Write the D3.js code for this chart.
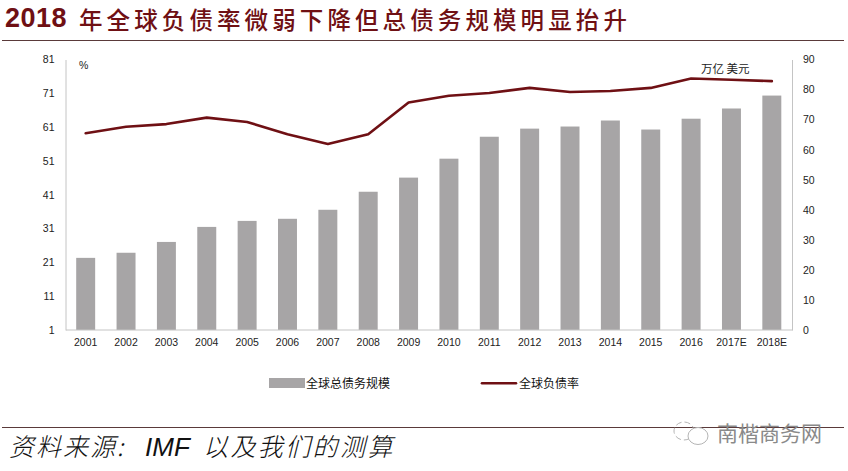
<!DOCTYPE html>
<html><head><meta charset="utf-8">
<script src="https://cdn.jsdelivr.net/npm/d3@7/dist/d3.min.js"></script>
<style>html,body{margin:0;padding:0;background:#fff}svg{display:block}</style>
</head><body><svg id="c" width="848" height="471"></svg>
<script>
const categories=["2001","2002","2003","2004","2005","2006","2007","2008","2009","2010","2011","2012","2013","2014","2015","2016","2017E","2018E"];
const debtTotal=[24,25.7,29.3,34.3,36.3,37,40,46,50.7,57,64.3,67,67.7,69.7,66.7,70.3,73.7,78];
const debtRatio=[59.2,61.1,61.9,63.8,62.5,58.9,56,58.9,68.3,70.3,71.1,72.6,71.4,71.7,72.6,75.4,75,74.6];
const leftTicks=[1,11,21,31,41,51,61,71,81];
const rightTicks=[0,10,20,30,40,50,60,70,80,90];
const FONT='"Noto Sans CJK SC","Noto Sans",sans-serif';
const DARK="#6f1014", AX="#c4c4c4", TXT="#222";
const svg=d3.select("#c");
const L=65.5,R=792,T=59.5,B=330;
const x=d3.scaleBand().domain(categories).range([L,R]).paddingInner(0.53).paddingOuter(0.265);
const yL=d3.scaleLinear().domain([1,81]).range([B,T]);
const yR=d3.scaleLinear().domain([0,90]).range([B,T]);

// title
svg.append("text").attr("x",5).attr("y",27).attr("font-family",'"Liberation Sans",sans-serif').attr("font-weight",700)
  .attr("font-size",27).attr("fill",DARK).attr("letter-spacing",0.5).text("2018");
svg.append("text").attr("x",79).attr("y",29).attr("font-family",FONT).attr("font-weight",500)
  .attr("font-size",23.5).attr("fill",DARK).attr("letter-spacing",4.1).text("年全球负债率微弱下降但总债务规模明显抬升");
svg.append("line").attr("x1",2).attr("x2",844).attr("y1",40.5).attr("y2",40.5).attr("stroke","#5a3a3a").attr("stroke-width",1);

// bars
svg.append("g").selectAll("rect").data(categories).join("rect")
  .attr("x",d=>x(d)).attr("width",x.bandwidth())
  .attr("y",(d,i)=>yR(debtTotal[i])).attr("height",(d,i)=>yR(0)-yR(debtTotal[i]))
  .attr("fill","#a7a5a6");

// axes
const axL=svg.append("g").attr("transform",`translate(${L},0)`).call(d3.axisLeft(yL).tickValues(leftTicks).tickSize(0).tickPadding(11).tickFormat(d3.format("d")));
const axR=svg.append("g").attr("transform",`translate(${R},0)`).call(d3.axisRight(yR).tickValues(rightTicks).tickSize(0).tickPadding(11).tickFormat(d3.format("d")));
const axB=svg.append("g").attr("transform",`translate(0,${B-0.5})`).call(d3.axisBottom(x).tickSize(0).tickPadding(9));
[axL,axR,axB].forEach(a=>{a.selectAll("path.domain").attr("stroke",AX).attr("stroke-width",1);
  a.selectAll("text").attr("font-family",'"Liberation Sans",sans-serif').attr("font-size",10.5).attr("fill",TXT);});

// line
const line=d3.line().x((d,i)=>x(categories[i])+x.bandwidth()/2).y(d=>yL(d));
svg.append("path").datum(debtRatio).attr("d",line).attr("fill","none").attr("stroke",DARK).attr("stroke-width",2.6).attr("stroke-linejoin","round").attr("stroke-linecap","round");

// units
svg.append("text").attr("x",79).attr("y",69).attr("font-family",'"Liberation Sans",sans-serif').attr("font-size",10.5).attr("fill",TXT).text("%");
svg.append("text").attr("x",701).attr("y",73).attr("font-family",FONT).attr("font-size",11.5).attr("fill",TXT).text("万亿 美元");

// legend
svg.append("rect").attr("x",269).attr("y",378).attr("width",36).attr("height",10).attr("fill","#a7a5a6");
svg.append("text").attr("x",306).attr("y",387.5).attr("font-family",FONT).attr("font-size",12).attr("fill","#111").text("全球总债务规模");
svg.append("line").attr("x1",482).attr("x2",516).attr("y1",383.3).attr("y2",383.3).attr("stroke",DARK).attr("stroke-width",2.6).attr("stroke-linecap","round");
svg.append("text").attr("x",519).attr("y",387.5).attr("font-family",FONT).attr("font-size",12).attr("fill","#111").text("全球负债率");

// footer
svg.append("line").attr("x1",2).attr("x2",844).attr("y1",427.5).attr("y2",427.5).attr("stroke","#5a3a3a").attr("stroke-width",1);
svg.append("text").attr("x",9).attr("y",456).attr("font-family",FONT).attr("font-style","italic").attr("font-weight",300).attr("font-size",25).attr("letter-spacing",2).attr("fill","#111").text("资料来源:");
svg.append("text").attr("x",145).attr("y",456).attr("font-family",'"Liberation Sans",sans-serif').attr("font-style","italic").attr("font-size",26).attr("fill","#111").text("IMF");
svg.append("text").attr("x",203).attr("y",456).attr("font-family",FONT).attr("font-style","italic").attr("font-weight",300).attr("font-size",25).attr("letter-spacing",2.4).attr("fill","#111").text("以及我们的测算");

// watermark
const wm=svg.append("g");
wm.append("ellipse").attr("cx",684).attr("cy",431).attr("rx",10).attr("ry",9).attr("fill","none").attr("stroke","#b5b5b5").attr("stroke-width",1).attr("stroke-dasharray","6 3");
wm.append("ellipse").attr("cx",698).attr("cy",436).attr("rx",10).attr("ry",8.5).attr("fill","#fff").attr("stroke","#b5b5b5").attr("stroke-width",1);
wm.append("text").attr("x",717).attr("y",441).attr("font-family",FONT).attr("font-size",21).attr("fill","#8a8a8a").text("南楷商务网");
</script></body></html>
